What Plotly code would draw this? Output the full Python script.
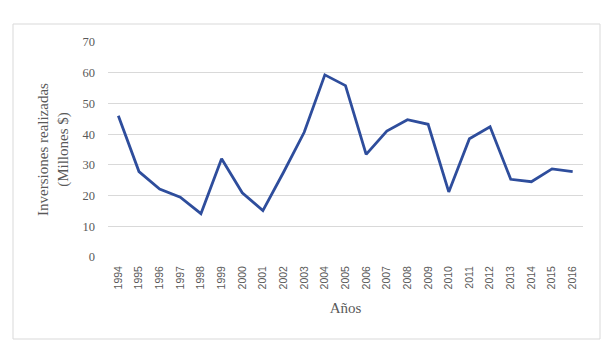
import plotly.graph_objects as go

years = [str(y) for y in range(1994, 2017)]
values = [46.0, 27.8, 22.1, 19.5, 14.1, 32.0, 20.9, 15.1, 27.6, 40.6, 59.3, 55.8,
          33.4, 41.0, 44.7, 43.2, 21.2, 38.5, 42.4, 25.3, 24.5, 28.7, 27.8]
y_ticks = [0, 10, 20, 30, 40, 50, 60, 70]

fig = go.Figure()
fig.add_trace(go.Scatter(x=years, y=values, mode="lines",
                         line=dict(color="#2E4D9C", width=2.8), showlegend=False))

W, H = 609, 342
ml, mr, mt, mb = 108, 26, 42, 85
pw, ph = W - ml - mr, H - mt - mb

def px_x(px):
    return (px - ml) / pw

def px_y(py):
    return (H - mb - py) / ph

fig.add_shape(type="rect", xref="paper", yref="paper",
              x0=px_x(13), x1=px_x(600), y0=px_y(339), y1=px_y(24),
              line=dict(color="#d9d9d9", width=1), fillcolor="rgba(0,0,0,0)", layer="below")

fig.update_layout(
    width=W, height=H,
    margin=dict(l=ml, r=mr, t=mt, b=mb, autoexpand=False),
    paper_bgcolor="white", plot_bgcolor="white",
    xaxis=dict(type="category", range=[-0.5, len(years) - 0.5], automargin=False,
               tickangle=-90, showgrid=False, showline=False, ticks="",
               ticklabelstandoff=6,
               tickfont=dict(family="Liberation Sans", size=10.5, color="#595959"),
               title=dict(text="Años", font=dict(family="Liberation Serif", size=15, color="#595959"),
                          standoff=14)),
    yaxis=dict(range=[0, 70], tickvals=y_ticks, automargin=False, showgrid=True,
               gridcolor="#d9d9d9", gridwidth=1, zeroline=False, showline=False, ticks="",
               ticklabelstandoff=12,
               tickfont=dict(family="Liberation Serif", size=12.5, color="#595959"),
               title=dict(text="Inversiones realizadas<br>(Millones $)",
                          font=dict(family="Liberation Serif", size=15, color="#595959"),
                          standoff=10)),
)

fig.write_html("out.html", config={"displayModeBar": False},
               post_script="document.body.style.margin='0';")
